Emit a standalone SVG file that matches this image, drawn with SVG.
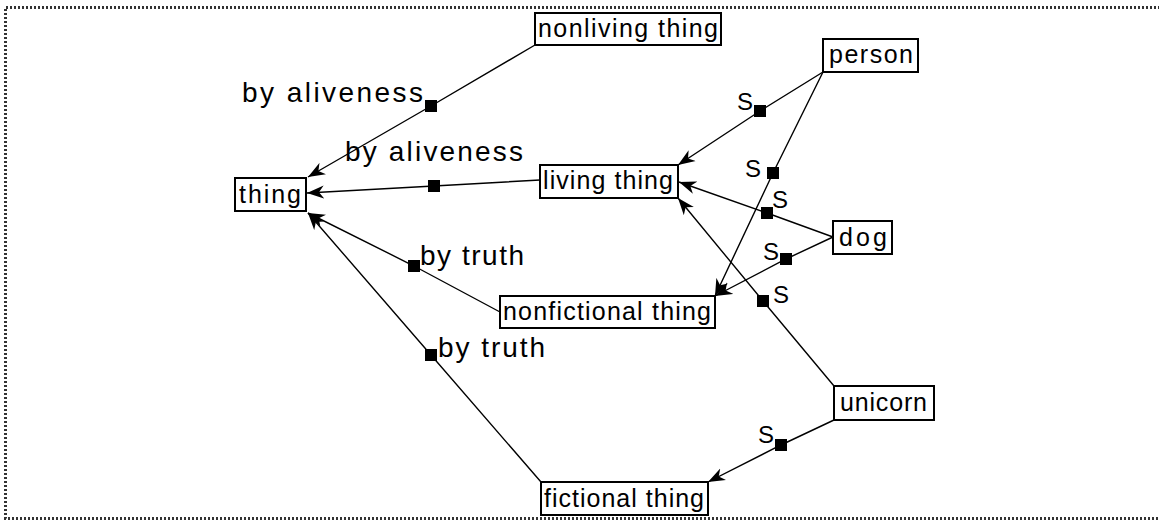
<svg xmlns="http://www.w3.org/2000/svg" width="1159" height="521" viewBox="0 0 1159 521">
  <style>
    .frame { fill: none; stroke: #333; stroke-width: 3; stroke-dasharray: 2 2; }
    .box { fill: #fff; stroke: #000; stroke-width: 2; }
    .lbl { font-family: "Liberation Sans", Arial, sans-serif; font-size: 25px; fill: #000; }
    .rel { font-family: "Liberation Sans", Arial, sans-serif; font-size: 28px; fill: #000; }
    .s { font-family: "Liberation Sans", Arial, sans-serif; font-size: 24px; fill: #000; }
    .edge { fill: none; stroke: #000; stroke-width: 1.4; marker-end: url(#arrow); }
    .mid { fill: #000; }
  </style>
  <defs>
    <!-- filled, notched arrowhead drawn at each target node -->
    <marker id="arrow" markerWidth="18" markerHeight="14" refX="17" refY="7" orient="auto" markerUnits="userSpaceOnUse">
      <path d="M0,0.5 L17,7 L0,13.5 L5,7 z" fill="#000"/>
    </marker>
  </defs>

  <rect width="1159" height="521" fill="#fff"/>
  <!-- dotted frame -->
  <path class="frame" d="M1160,7.5 H5.5 V518.5 H1160"/>

  <!-- connectors -->
  <g id="connectors">
    <path class="edge" d="M535,45 L431,106 L308,177"/>
    <path class="edge" d="M540,180 L434,186 L307,193"/>
    <path class="edge" d="M823,72 L760,111 L678,165"/>
    <path class="edge" d="M823,72 L773,173 L715,296"/>
    <path class="edge" d="M833,237 L767,213 L679,182"/>
    <path class="edge" d="M833,237 L786,259 L715,296"/>
    <path class="edge" d="M834,386 L763,301 L678,198"/>
    <path class="edge" d="M834,420 L781,445 L708,482"/>
    <path class="edge" d="M500,312 L414,266 L308,213"/>
    <path class="edge" d="M541,482 L431,355 L308,213"/>

    <rect class="mid" x="425" y="100" width="12" height="12"/>
    <rect class="mid" x="428" y="180" width="12" height="12"/>
    <rect class="mid" x="754" y="105" width="12" height="12"/>
    <rect class="mid" x="767" y="167" width="12" height="12"/>
    <rect class="mid" x="761" y="207" width="12" height="12"/>
    <rect class="mid" x="780" y="253" width="12" height="12"/>
    <rect class="mid" x="757" y="295" width="12" height="12"/>
    <rect class="mid" x="775" y="439" width="12" height="12"/>
    <rect class="mid" x="408" y="260" width="12" height="12"/>
    <rect class="mid" x="425" y="349" width="12" height="12"/>

    <text class="rel" x="242" y="102" textLength="181" lengthAdjust="spacing">by aliveness</text>
    <text class="rel" x="345" y="161" textLength="178" lengthAdjust="spacing">by aliveness</text>
    <text class="rel" x="420" y="265" textLength="104" lengthAdjust="spacing">by truth</text>
    <text class="rel" x="438" y="357" textLength="107" lengthAdjust="spacing">by truth</text>
    <text class="s" x="737" y="110">S</text>
    <text class="s" x="745" y="177">S</text>
    <text class="s" x="772" y="208">S</text>
    <text class="s" x="763" y="260">S</text>
    <text class="s" x="773" y="303">S</text>
    <text class="s" x="758" y="443">S</text>
  </g>

  <!-- nodes -->
  <g id="node-nonliving-thing">
    <rect class="box" x="535" y="13" width="186" height="32"/>
    <text class="lbl" x="538" y="37" textLength="180" lengthAdjust="spacing">nonliving thing</text>
  </g>
  <g id="node-thing">
    <rect class="box" x="235" y="178" width="71" height="33"/>
    <text class="lbl" x="239" y="203" textLength="62" lengthAdjust="spacing">thing</text>
  </g>
  <g id="node-living-thing">
    <rect class="box" x="540" y="165" width="138" height="33"/>
    <text class="lbl" x="543" y="189" textLength="130" lengthAdjust="spacing">living thing</text>
  </g>
  <g id="node-person">
    <rect class="box" x="823" y="39" width="95" height="33"/>
    <text class="lbl" x="829" y="63" textLength="84" lengthAdjust="spacing">person</text>
  </g>
  <g id="node-dog">
    <rect class="box" x="833" y="221" width="59" height="33"/>
    <text class="lbl" x="839" y="246" textLength="48" lengthAdjust="spacing">dog</text>
  </g>
  <g id="node-nonfictional-thing">
    <rect class="box" x="500" y="296" width="215" height="32"/>
    <text class="lbl" x="503" y="320" textLength="208" lengthAdjust="spacing">nonfictional thing</text>
  </g>
  <g id="node-unicorn">
    <rect class="box" x="834" y="386" width="100" height="34"/>
    <text class="lbl" x="840" y="411" textLength="87" lengthAdjust="spacing">unicorn</text>
  </g>
  <g id="node-fictional-thing">
    <rect class="box" x="541" y="482" width="167" height="33"/>
    <text class="lbl" x="544" y="507" textLength="160" lengthAdjust="spacing">fictional thing</text>
  </g>
</svg>
